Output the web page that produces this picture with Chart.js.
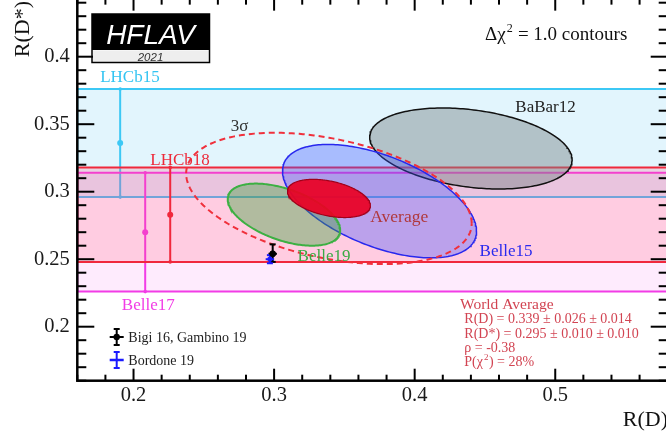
<!DOCTYPE html>
<html>
<head>
<meta charset="utf-8">
<script src="https://cdn.jsdelivr.net/npm/chart.js@4/dist/chart.umd.min.js"></script>
<style>
  html, body { margin: 0; padding: 0; background: #fff; overflow: hidden; width: 666px; height: 435px; position: relative; }
  #c { position: absolute; left: 0; top: -10px; }
</style>
</head>
<body>
<canvas id="c" width="680" height="445"></canvas>
<script>
const SERIF = '"Liberation Serif", "Times New Roman", serif';
const SANS = '"Liberation Sans", Arial, sans-serif';
const OY = 10; // canvas sits 10px above the page top

// ---- axis ranges and tick labels ----
const xRange = [0.16, 0.58];
const yRange = [0.16, 0.443];
const xTickLabels = ['0.2', '0.3', '0.4', '0.5'];
const yTickLabels = ['0.2', '0.25', '0.3', '0.35', '0.4'];

// ---- R(D*)-only measurements (horizontal bands) ----
const bandNames = ['LHCb15', 'Belle17', 'LHCb18'];
const bandValue = [0.336, 0.270, 0.283];
const bandError = [0.040, 0.044, 0.035];
const bandBarRD = [0.1905, 0.2083, 0.2261];

// ---- R(D)-R(D*) measurements (delta chi2 = 1 contours) ----
const contourNames = ['BaBar12', 'Belle15', 'Belle19'];
const contourRD = [0.440, 0.375, 0.307];
const contourRDErr = [0.072, 0.069, 0.040];
const contourRDs = [0.332, 0.293, 0.283];
const contourRDsErr = [0.030, 0.042, 0.023];
const contourRho = [-0.28, -0.53, -0.50];

// ---- world average: value, stat, syst ----
const avgRD = [0.339, 0.026, 0.014];
const avgRDs = [0.295, 0.010, 0.010];
const avgRho = -0.38;
const avgPchi2 = 28;
const sigma3Chi2 = 11.83; // 3 sigma, two parameters

// ---- SM predictions ----
const smNames = ['Bigi 16, Gambino 19', 'Bordone 19'];
const smRD = [0.299, 0.297];
const smRDErr = [0.003, 0.003];
const smRDs = [0.254, 0.250];
const smRDsErrUp = [0.007, 0.003];
const smRDsErrDown = [0.006, 0.003];

// ---- styles ----
const bandStyle = {
  LHCb15: { line: '#3cc8f5', fill: 'rgba(60,190,240,0.15)' },
  Belle17: { line: '#f23ce6', fill: 'rgba(245,60,235,0.10)' },
  LHCb18: { line: '#f0283c', fill: 'rgba(255,80,110,0.20)' }
};
const contourStyle = {
  BaBar12: { line: '#111111', fill: 'rgba(120,130,135,0.45)', width: 1.5 },
  Belle15: { line: '#2828ee', fill: 'rgba(60,80,255,0.35)', width: 1.5 },
  Belle19: { line: '#3cb043', fill: 'rgba(60,160,60,0.40)', width: 2 },
  Average: { line: '#a0001a', fill: 'rgba(235,0,35,0.92)', width: 1.2 },
  '3σ': { line: '#f0303c', fill: null, width: 2, dash: [6, 4] }
};
const smColors = ['#000000', '#1a1aff'];
const smShapes = ['circle', 'rect'];

// in-plot labels (anchored in data coordinates: left edge, baseline)
const notes = [
  { text: 'LHCb15', x: 0.1763, y: 0.3809, color: '#33c4f2' },
  { text: 'LHCb18', x: 0.2119, y: 0.3198, color: '#ee2a3a' },
  { text: 'Belle17', x: 0.1917, y: 0.2127, color: '#f23ce6' },
  { text: '3σ', x: 0.2692, y: 0.3450, color: '#333333' },
  { text: 'BaBar12', x: 0.4716, y: 0.3587, color: '#222222' },
  { text: 'Average', x: 0.3684, y: 0.2772, color: '#b0383c' },
  { text: 'Belle15', x: 0.4462, y: 0.2526, color: '#2a2aee' },
  { text: 'Belle19', x: 0.3167, y: 0.2487, color: '#3aaa44' }
];

function contourPoints(mx, sx, my, sy, rho, k) {
  const pts = [], n = 240, s = Math.sqrt(1 - rho * rho);
  for (let i = 0; i <= n; i++) {
    const t = 2 * Math.PI * i / n;
    pts.push({ x: mx + k * sx * Math.cos(t), y: my + k * sy * (rho * Math.cos(t) + s * Math.sin(t)) });
  }
  return pts;
}

const datasets = [];

// bands with their error bars
bandNames.forEach((name, i) => {
  const st = bandStyle[name];
  const lo = bandValue[i] - bandError[i], hi = bandValue[i] + bandError[i];
  datasets.push({
    label: name,
    data: [{ x: xRange[0], y: lo }, { x: xRange[1], y: lo }, { x: xRange[1], y: hi }, { x: xRange[0], y: hi }, { x: xRange[0], y: lo }],
    showLine: true, borderColor: st.line, borderWidth: 2, pointRadius: 0, areaColor: st.fill
  });
  datasets.push({
    label: name + ' bar',
    data: [{ x: bandBarRD[i], y: lo }, { x: bandBarRD[i], y: bandValue[i] }, { x: bandBarRD[i], y: hi }],
    showLine: true, borderColor: st.line, borderWidth: 2,
    pointRadius: [1.8, 3, 1.8], pointBackgroundColor: st.line, pointBorderWidth: 0
  });
});

// measurement contours
contourNames.forEach((name, i) => {
  const st = contourStyle[name];
  datasets.push({
    label: name,
    data: contourPoints(contourRD[i], contourRDErr[i], contourRDs[i], contourRDsErr[i], contourRho[i], 1),
    showLine: true, borderColor: st.line, borderWidth: st.width, pointRadius: 0, areaColor: st.fill
  });
});

// average contours (1 and 3 sigma)
const avgRDErr = Math.hypot(avgRD[1], avgRD[2]);
const avgRDsErr = Math.hypot(avgRDs[1], avgRDs[2]);
[['Average', 1], ['3σ', Math.sqrt(sigma3Chi2)]].forEach(([name, k]) => {
  const st = contourStyle[name];
  datasets.push({
    label: name,
    data: contourPoints(avgRD[0], avgRDErr, avgRDs[0], avgRDsErr, avgRho, k),
    showLine: true, borderColor: st.line, borderWidth: st.width, borderDash: st.dash || [],
    pointRadius: 0, areaColor: st.fill
  });
});

// SM predictions
datasets.push({
  label: 'SM',
  data: smRD.map((x, i) => ({ x, y: smRDs[i] })),
  showLine: false,
  pointRadius: [3, 2.5], pointStyle: smShapes, pointBackgroundColor: smColors, pointBorderColor: smColors, pointBorderWidth: 1,
  errBars: smRD.map((x, i) => ({ xm: smRDErr[i], xp: smRDErr[i], ym: smRDsErrDown[i], yp: smRDsErrUp[i] }))
});

// first dataset drawn first (underneath)
datasets.forEach((d, i) => { d.order = datasets.length - i; });

function seg(ctx, x0, y0, x1, y1) { ctx.beginPath(); ctx.moveTo(x0, y0); ctx.lineTo(x1, y1); ctx.stroke(); }

const shapeFill = {
  id: 'shapeFill',
  beforeDatasetDraw(chart, args) {
    const ds = chart.data.datasets[args.index];
    if (!ds.areaColor) return;
    const { ctx, chartArea: a } = chart;
    const pts = args.meta.data;
    ctx.save();
    ctx.beginPath(); ctx.rect(a.left, a.top, a.width, a.height); ctx.clip();
    ctx.beginPath();
    pts.forEach((p, i) => (i ? ctx.lineTo(p.x, p.y) : ctx.moveTo(p.x, p.y)));
    ctx.closePath();
    ctx.fillStyle = ds.areaColor;
    ctx.fill();
    ctx.restore();
  }
};

const errorBars = {
  id: 'errorBars',
  beforeDatasetDraw(chart, args) {
    const ds = chart.data.datasets[args.index];
    if (!ds.errBars) return;
    const { ctx } = chart, xs = chart.scales.x, ys = chart.scales.y;
    ctx.save();
    ds.data.forEach((d, i) => {
      const e = ds.errBars[i];
      const px = xs.getPixelForValue(d.x), py = ys.getPixelForValue(d.y);
      const x0 = xs.getPixelForValue(d.x - e.xm), x1 = xs.getPixelForValue(d.x + e.xp);
      const y0 = ys.getPixelForValue(d.y - e.ym), y1 = ys.getPixelForValue(d.y + e.yp);
      ctx.strokeStyle = ds.pointBackgroundColor[i];
      ctx.lineWidth = 2;
      seg(ctx, x0, py, x1, py);
      seg(ctx, px, y0, px, y1);
      seg(ctx, px - 3, y0, px + 3, y0);
      seg(ctx, px - 3, y1, px + 3, y1);
    });
    ctx.restore();
  }
};

function supText(ctx, parts, x, y, size) {
  // parts: [text, isSuperscript]
  parts.forEach(([t, sup]) => {
    ctx.font = (sup ? Math.round(size * 0.62) : size) + 'px ' + SERIF;
    ctx.fillText(t, x + (sup ? 1 : 0), sup ? y - size * 0.4 : y);
    x += ctx.measureText(t).width + (sup ? 1.5 : 0);
  });
}

const overlay = {
  id: 'overlay',
  afterDraw(chart) {
    const { ctx, chartArea: a } = chart, xs = chart.scales.x, ys = chart.scales.y;
    ctx.save();

    // frame and inward ticks on all four sides
    ctx.strokeStyle = '#000';
    ctx.lineWidth = 2;
    for (let k = 0; ; k++) {
      const v = +(xRange[0] + k * 0.02).toFixed(4);
      if (v > xRange[1] + 1e-9) break;
      const major = Math.abs(v * 10 - Math.round(v * 10)) < 1e-6;
      const len = major ? 12 : 6, px = xs.getPixelForValue(v);
      seg(ctx, px, a.bottom, px, a.bottom - len);
      seg(ctx, px, a.top, px, a.top + len);
    }
    for (let k = 0; ; k++) {
      const v = +(yRange[0] + k * 0.01).toFixed(4);
      if (v > yRange[1] + 1e-9) break;
      const major = Math.abs(v * 20 - Math.round(v * 20)) < 1e-6;
      const len = major ? 17 : 9, py = ys.getPixelForValue(v);
      seg(ctx, a.left, py, a.left + len, py);
      seg(ctx, a.right, py, a.right - len, py);
    }
    ctx.lineWidth = 2.5;
    ctx.strokeRect(a.left, a.top, a.width, a.height);

    // in-plot labels
    ctx.textAlign = 'left';
    ctx.textBaseline = 'alphabetic';
    notes.forEach(n => {
      ctx.font = (n.text === 'Average' ? '17.5px ' : '17px ') + SERIF;
      ctx.fillStyle = n.color;
      ctx.fillText(n.text, xs.getPixelForValue(n.x), ys.getPixelForValue(n.y));
    });

    // header
    ctx.fillStyle = '#111';
    supText(ctx, [['Δχ', false], ['2', true], [' = 1.0 contours', false]], 485, 39.5 + OY, 19);

    // world average summary
    ctx.fillStyle = '#d24452';
    ctx.font = '15.5px ' + SERIF;
    ctx.fillText('World Average', 460, 309.3 + OY);
    ctx.font = '14px ' + SERIF;
    ctx.fillText('R(D) = ' + avgRD[0].toFixed(3) + ' ± ' + avgRD[1].toFixed(3) + ' ± ' + avgRD[2].toFixed(3), 464.3, 323.3 + OY);
    ctx.fillText('R(D*) = ' + avgRDs[0].toFixed(3) + ' ± ' + avgRDs[1].toFixed(3) + ' ± ' + avgRDs[2].toFixed(3), 464.3, 337.5 + OY);
    ctx.fillText('ρ = ' + avgRho.toFixed(2), 464.3, 351.7 + OY);
    supText(ctx, [['P(χ', false], ['2', true], [') = ' + avgPchi2 + '%', false]], 464.3, 366 + OY, 14);

    // legend for the SM predictions
    smNames.forEach((name, i) => {
      const cx = 116.7, cy = 337 + i * 23 + OY;
      ctx.strokeStyle = smColors[i];
      ctx.fillStyle = smColors[i];
      ctx.lineWidth = 2;
      seg(ctx, cx, cy - 8, cx, cy + 8);
      seg(ctx, cx - 3, cy - 8, cx + 3, cy - 8);
      seg(ctx, cx - 3, cy + 8, cx + 3, cy + 8);
      ctx.lineWidth = i === 0 ? 2 : 2.5;
      seg(ctx, cx - 7, cy, cx + 7, cy);
      if (i === 0) { ctx.beginPath(); ctx.arc(cx, cy, 3.2, 0, 2 * Math.PI); ctx.fill(); }
      ctx.fillStyle = '#222';
      ctx.font = '14px ' + SERIF;
      ctx.fillText(name, 128.3, cy + 4.5);
    });

    // logo
    ctx.fillStyle = '#000';
    ctx.fillRect(92, 14 + OY, 117.5, 36);
    ctx.fillStyle = '#eeeeee';
    ctx.fillRect(93, 50.5 + OY, 115.5, 11.5);
    ctx.strokeStyle = '#000';
    ctx.lineWidth = 1.5;
    ctx.strokeRect(92, 14 + OY, 117.5, 48.5);
    ctx.textAlign = 'center';
    ctx.fillStyle = '#ffffff';
    ctx.font = 'italic 28px ' + SANS;
    ctx.fillText('HFLAV', 150.5, 43.5 + OY);
    ctx.fillStyle = '#333';
    ctx.font = 'italic 11.5px ' + SANS;
    ctx.fillText('2021', 150.5, 60.5 + OY);

    // axis titles
    ctx.fillStyle = '#111';
    ctx.font = '22px ' + SERIF;
    ctx.textAlign = 'right';
    ctx.fillText('R(D)', 668, 426 + OY);
    ctx.save();
    ctx.translate(28.5, 1 + OY);
    ctx.rotate(-Math.PI / 2);
    ctx.fillText('R(D*)', 0, 0);
    ctx.restore();

    ctx.restore();
  }
};

Chart.defaults.font.family = SERIF;

new Chart(document.getElementById('c'), {
  type: 'scatter',
  data: { datasets },
  plugins: [shapeFill, errorBars, overlay],
  options: {
    responsive: false,
    devicePixelRatio: 1,
    animation: false,
    events: [],
    layout: { padding: { left: 0, top: 8.65, right: 12.3, bottom: 14.3 } },
    plugins: { legend: { display: false }, tooltip: { enabled: false } },
    scales: {
      x: {
        type: 'linear', min: xRange[0], max: xRange[1],
        afterBuildTicks: s => { s.ticks = xTickLabels.map(t => ({ value: Number(t) })); },
        afterFit: s => { s.height = 40; s.paddingLeft = 0; s.paddingRight = 0; },
        grid: { display: false, drawTicks: false },
        border: { display: false },
        ticks: { padding: 3, color: '#1a1a1a', font: { family: SERIF, size: 20.5 }, maxRotation: 0, autoSkip: false,
                 callback: (v, i) => xTickLabels[i] }
      },
      y: {
        type: 'linear', min: yRange[0], max: yRange[1],
        afterBuildTicks: s => { s.ticks = yTickLabels.map(t => ({ value: Number(t) })); },
        afterFit: s => { s.width = 77.3; s.paddingTop = 0; s.paddingBottom = 0; },
        grid: { display: false, drawTicks: false },
        border: { display: false },
        ticks: { padding: 7.5, color: '#1a1a1a', font: { family: SERIF, size: 20.5 }, autoSkip: false,
                 callback: (v, i) => yTickLabels[i] }
      }
    }
  }
});
</script>
</body>
</html>
